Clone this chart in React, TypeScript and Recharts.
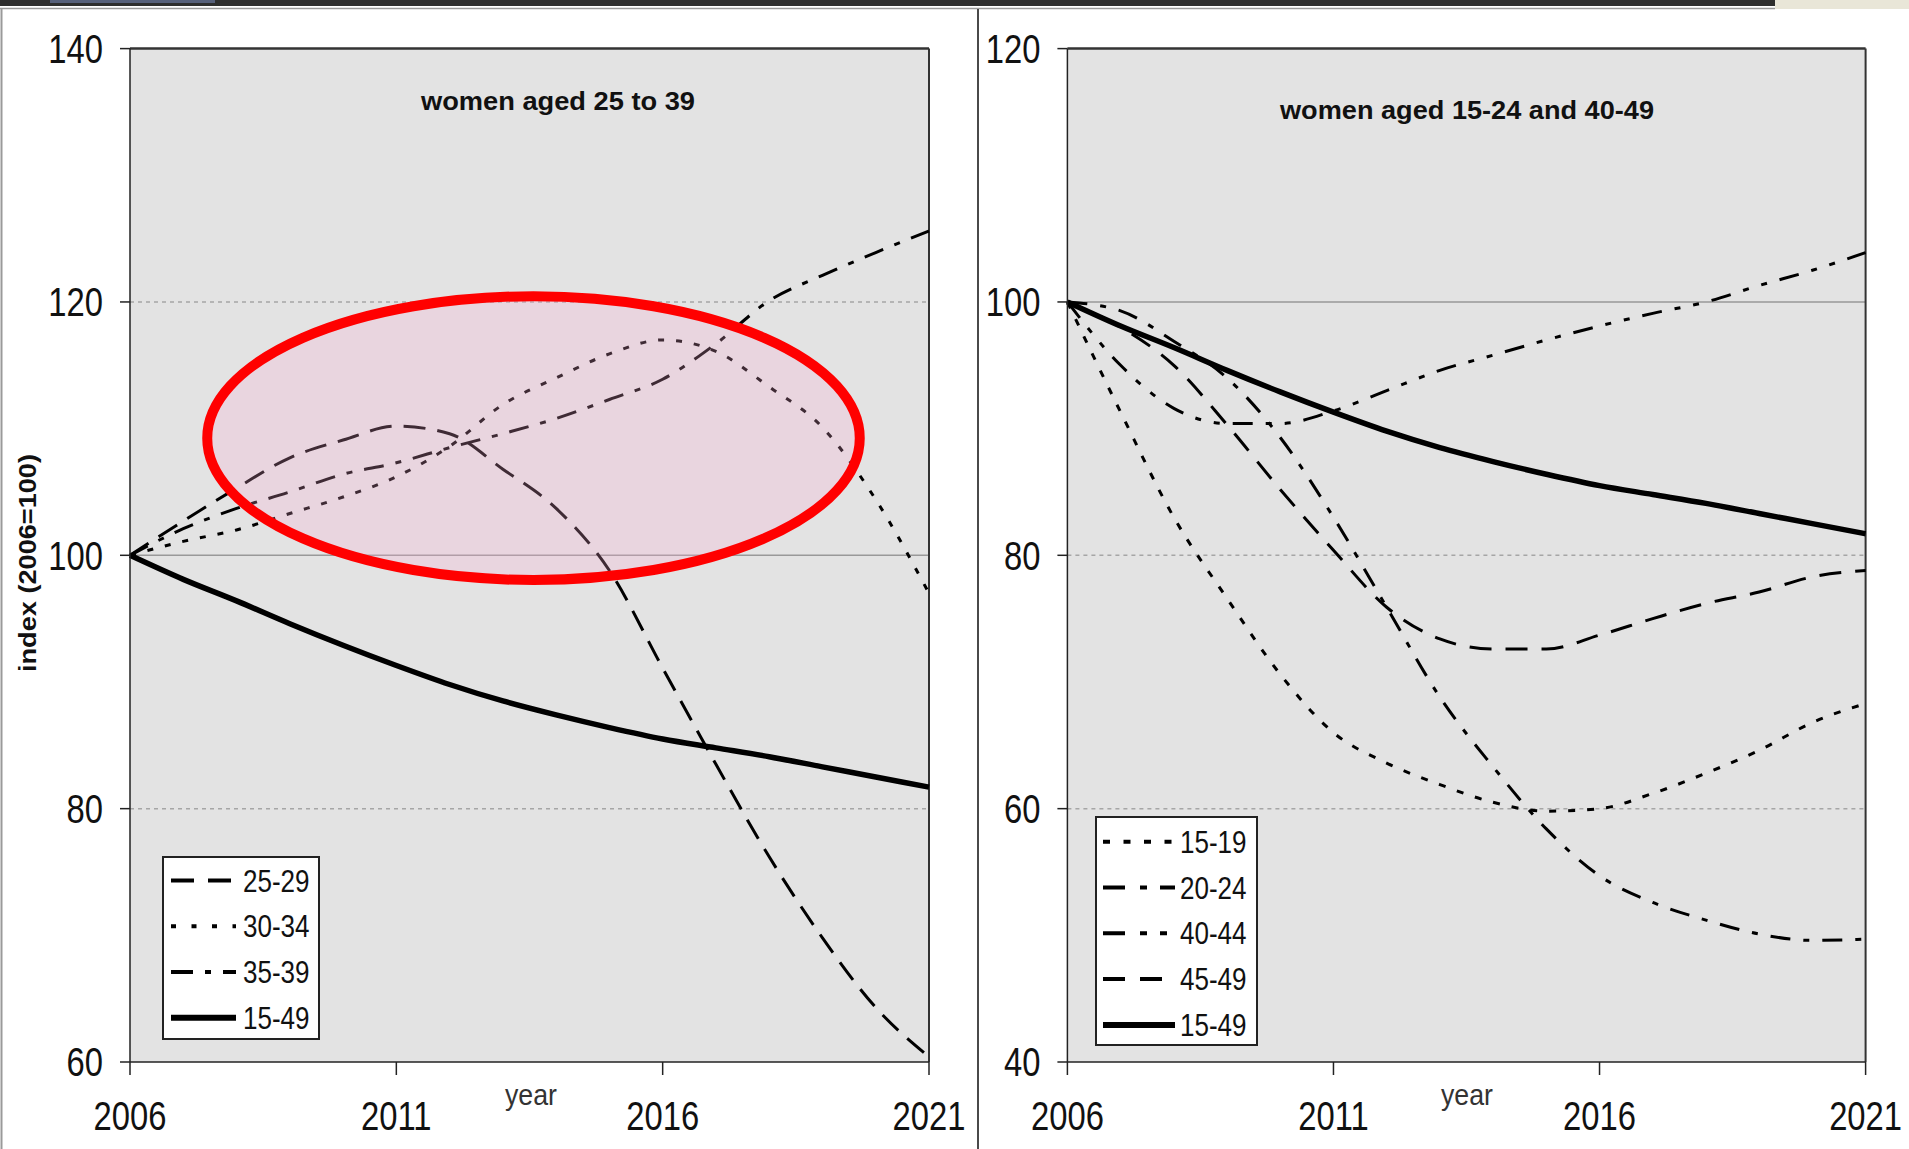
import React from 'react'
import { LineChart, Line, XAxis, YAxis, CartesianGrid, ReferenceLine, ReferenceArea, Legend } from 'recharts'

const FONT = 'Liberation Sans, Arial, sans-serif'

const years = [2006, 2007, 2008, 2009, 2010, 2011, 2012, 2013, 2014, 2015, 2016, 2017, 2018, 2019, 2020, 2021]
const xTicks = [2006, 2011, 2016, 2021]

// left panel, women aged 25 to 39 (index 2006=100)
const age2529 = [100, 102.7, 105.3, 107.7, 109.1, 110.2, 109.6, 106.8, 103.7, 98.8, 91.1, 83.5, 76.2, 69.8, 64.3, 60.4]
const age3034 = [100, 101.1, 102.0, 103.3, 104.6, 106.2, 108.6, 111.9, 114.0, 115.9, 117.0, 116.1, 113.3, 110.1, 104.4, 97.0]
const age3539 = [100, 102.1, 103.7, 105.0, 106.4, 107.3, 108.5, 109.6, 110.8, 112.3, 113.9, 116.7, 120.1, 122.1, 123.9, 125.6]
const age1549 = [100, 98.1, 96.4, 94.6, 92.9, 91.3, 89.8, 88.5, 87.4, 86.4, 85.5, 84.8, 84.1, 83.3, 82.5, 81.7]

// right panel, women aged 15-24 and 40-49
const age1519 = [100, 91.3, 83.0, 76.6, 70.6, 66.0, 63.6, 61.9, 60.5, 59.8, 60.0, 61.2, 62.8, 64.6, 66.8, 68.3]
const age2024 = [100, 99.3, 96.9, 94.0, 89.3, 83.0, 75.9, 68.8, 63.3, 58.4, 54.7, 52.6, 51.2, 50.1, 49.6, 49.7]
const age4044 = [100, 95.0, 91.6, 90.4, 90.4, 91.4, 93.0, 94.6, 95.8, 97.0, 98.1, 99.1, 100.0, 101.3, 102.5, 103.9]
const age4549 = [100, 98.0, 95.0, 90.3, 85.2, 80.4, 75.9, 73.4, 72.6, 72.6, 73.7, 75.0, 76.2, 77.1, 78.3, 78.8]

const leftTicks = [60, 80, 100, 120, 140]
const rightTicks = [40, 60, 80, 100, 120]

// highlighted region on the left panel (year / index bounds)
const highlight = { x1: 2007.45, x2: 2019.7, y1: 98.05, y2: 120.45 }

const leftData = years.map((year, i) => ({
  year, a2529: age2529[i], a3034: age3034[i], a3539: age3539[i], a1549: age1549[i],
}))
const rightData = years.map((year, i) => ({
  year, a1519: age1519[i], a2024: age2024[i], a4044: age4044[i], a4549: age4549[i], a1549: age1549[i],
}))

const leftSeries = [
  { key: 'a2529', name: '25-29', dash: '22 12', legendDash: '23 14' },
  { key: 'a3034', name: '30-34', dash: '6 12', legendDash: '5 15.5' },
  { key: 'a3539', name: '35-39', dash: '20 12 6 12', legendDash: '22 12 6 12' },
  { key: 'a1549', name: '15-49', solid: true },
]
const rightSeries = [
  { key: 'a1519', name: '15-19', dash: '7 12', legendDash: '7 13.5' },
  { key: 'a2024', name: '20-24', dash: '20 13 6 13', legendDash: '22 15 7 13' },
  { key: 'a4044', name: '40-44', dash: '20 13 6 13 6 13', legendDash: '22 15 7 13 7 15' },
  { key: 'a4549', name: '45-49', dash: '22 14', legendDash: '22 15' },
  { key: 'a1549', name: '15-49', solid: true },
]

const AxisTick = (p: any) => (
  <g transform={`translate(${p.x},${p.y})`}>
    <text transform="scale(0.82,1)" textAnchor={p.textAnchor}
      dy={p.verticalAnchor === 'start' ? '0.71em' : '0.36em'}
      fontSize={40} fontFamily={FONT} fill="#111">{p.payload.value}</text>
  </g>
)

const LegendBox = ({ items, width, height, rowTop, sx1, sx2, tx }: any) => (
  <div style={{ width, height, boxSizing: 'border-box', border: '2px solid #222', background: '#fff' }}>
    <svg width={width - 4} height={height - 4} style={{ display: 'block' }}>
      {items.map((s: any, i: number) => {
        const cy = rowTop + i * 45.8
        return (
          <g key={s.key}>
            <line x1={sx1} x2={sx2} y1={cy} y2={cy} stroke="#000"
              strokeWidth={s.solid ? 6 : 4} strokeDasharray={s.solid ? undefined : s.legendDash} />
            <g transform={`translate(${tx},${cy})`}>
              <text transform="scale(0.84,1)" dy="0.36em" fontSize={31} fontFamily={FONT} fill="#111">{s.name}</text>
            </g>
          </g>
        )
      })}
    </svg>
  </div>
)

const Panel = ({ data, series, yTicks, width, margin, dotted, legend, showHighlight }: any) => (
  <LineChart width={width} height={1149} data={data} margin={margin}>
    <CartesianGrid horizontal={false} vertical={false} fill="#e3e3e3" />
    {dotted.map((v: number) => (
      <ReferenceLine key={v} y={v} stroke="#a6a6a6" strokeWidth={1.5} strokeDasharray="4 4" />
    ))}
    <ReferenceLine y={100} stroke="#999" strokeWidth={1.5} />
    <ReferenceLine y={yTicks[yTicks.length - 1]} stroke="#333" strokeWidth={2.5} />
    <ReferenceLine x={2021} stroke="#333" strokeWidth={2} />
    <XAxis dataKey="year" type="number" domain={[2006, 2021]} ticks={xTicks} interval={0}
      height={60} tickSize={13} tickMargin={27}
      axisLine={{ stroke: '#222', strokeWidth: 1.5 }} tickLine={{ stroke: '#222', strokeWidth: 1.5 }}
      tick={(p: any) => <AxisTick {...p} />} />
    <YAxis type="number" domain={[yTicks[0], yTicks[yTicks.length - 1]]} ticks={yTicks} interval={0}
      width={60} tickSize={10} tickMargin={17}
      axisLine={{ stroke: '#222', strokeWidth: 1.5 }} tickLine={{ stroke: '#222', strokeWidth: 1.5 }}
      tick={(p: any) => <AxisTick {...p} />} />
    {series.map((s: any) => (
      <Line key={s.key} dataKey={s.key} name={s.name} type="monotone" stroke="#000"
        strokeWidth={s.solid ? 5.5 : 3} strokeDasharray={s.solid ? undefined : s.dash}
        dot={false} activeDot={false} isAnimationActive={false} />
    ))}
    <Legend layout="horizontal" verticalAlign="middle" align="center"
      wrapperStyle={{ position: 'absolute', left: legend.left, top: legend.top, width: legend.width, height: legend.height }}
      content={() => <LegendBox items={series} {...legend} />} />
    {showHighlight && (
      <ReferenceArea x1={highlight.x1} x2={highlight.x2} y1={highlight.y1} y2={highlight.y2} zIndex={1500}
        shape={(p: any) => (
          <ellipse cx={p.x + p.width / 2} cy={p.y + p.height / 2} rx={p.width / 2} ry={p.height / 2}
            fill="rgb(250,170,210)" fillOpacity={0.25} stroke="#ff0000" strokeWidth={10} />
        )} />
    )}
  </LineChart>
)

export default function App() {
  return (
    <div style={{ position: 'absolute', left: 0, top: 0, width: 1909, height: 1149, background: '#fff', overflow: 'hidden' }}>
      <svg width={1909} height={1149} style={{ position: 'absolute', left: 0, top: 0 }}>
        <rect x={0} y={0} width={1775} height={6} fill="#2e2e2e" />
        <rect x={50} y={0} width={165} height={3} fill="#56607a" />
        <rect x={1775} y={0} width={134} height={9} fill="#e9e6d8" />
        <line x1={0} x2={1775} y1={8.5} y2={8.5} stroke="#9a9a9a" strokeWidth={1.5} />
        <line x1={1.5} x2={1.5} y1={9} y2={1149} stroke="#9a9a9a" strokeWidth={2} />
        <line x1={978} x2={978} y1={9} y2={1149} stroke="#4a4a4a" strokeWidth={2} />
      </svg>
      <div style={{ position: 'absolute', left: 0, top: 0 }}>
        <Panel data={leftData} series={leftSeries} yTicks={leftTicks} width={977}
          margin={{ top: 48.6, right: 48, bottom: 27, left: 70 }} dotted={[80, 120]} showHighlight
          legend={{ left: 162, top: 856, width: 158, height: 184, rowTop: 22.4, sx1: 7, sx2: 72, tx: 79 }} />
      </div>
      <div style={{ position: 'absolute', left: 980, top: 0 }}>
        <Panel data={rightData} series={rightSeries} yTicks={rightTicks} width={929}
          margin={{ top: 48.6, right: 43.4, bottom: 27, left: 27.4 }} dotted={[60, 80]}
          legend={{ left: 115, top: 816, width: 163, height: 230, rowTop: 23.7, sx1: 6, sx2: 78, tx: 83 }} />
      </div>
      <svg width={1909} height={1149} style={{ position: 'absolute', left: 0, top: 0, pointerEvents: 'none' }}>
        <text x={558} y={110.2} textAnchor="middle" fontSize={26} fontWeight="bold" fontFamily={FONT}
          fill="#111" textLength={274} lengthAdjust="spacingAndGlyphs">women aged 25 to 39</text>
        <text x={1467} y={119.4} textAnchor="middle" fontSize={26} fontWeight="bold" fontFamily={FONT}
          fill="#111" textLength={374} lengthAdjust="spacingAndGlyphs">women aged 15-24 and 40-49</text>
        <text transform="translate(35.5,563) rotate(-90)" textAnchor="middle" fontSize={23.5} fontWeight="bold"
          fontFamily={FONT} fill="#111" textLength={218} lengthAdjust="spacingAndGlyphs">index (2006=100)</text>
        <text x={531} y={1105} textAnchor="middle" fontSize={30} fontFamily={FONT} fill="#333"
          textLength={52} lengthAdjust="spacingAndGlyphs">year</text>
        <text x={1467} y={1105} textAnchor="middle" fontSize={30} fontFamily={FONT} fill="#333"
          textLength={52} lengthAdjust="spacingAndGlyphs">year</text>
      </svg>
    </div>
  )
}
